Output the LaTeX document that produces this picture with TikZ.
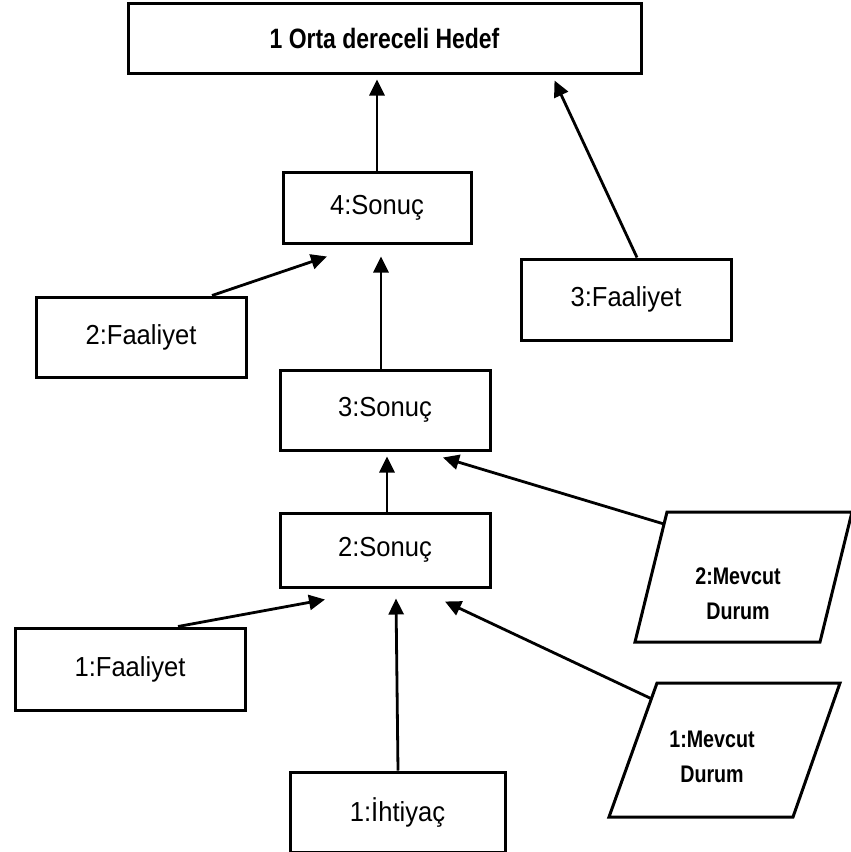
\documentclass[tikz,border=0pt]{standalone}
\usepackage{fontspec}
\setmainfont{Liberation Sans}
\newfontfamily\narrowsans[FakeStretch=0.82]{Liberation Sans}
\newfontfamily\labelsans[FakeStretch=0.93]{Liberation Sans}
\usetikzlibrary{arrows.meta}

\tikzset{
  box/.style={draw, line width=3pt, rectangle, inner sep=0pt,
    font=\labelsans\fontsize{27.5}{30}\selectfont},
  goalbox/.style={box, font=\narrowsans\bfseries\fontsize{28}{32}\selectfont},
  parabox/.style={line width=3pt, line join=miter},
  paratext/.style={inner sep=0pt, align=center,
    font=\narrowsans\bfseries\fontsize{24}{35}\selectfont},
  arr/.style={line width=2.8pt, -{Triangle[length=16pt,width=15pt]}}
}

\begin{document}
\begin{tikzpicture}[x=1pt,y=-1pt]
  \useasboundingbox (0,0) rectangle (851,852);

  % goal
  \node[goalbox, minimum width=513pt, minimum height=70pt] (goal) at (384.5,38) {1 Orta dereceli Hedef};

  % results
  \node[box, minimum width=188pt, minimum height=71pt] (s4) at (377,207.5) {4:Sonuç};
  \node[box, minimum width=210pt, minimum height=80pt] (s3) at (385,410) {3:Sonuç};
  \node[box, minimum width=210pt, minimum height=74pt] (s2) at (385,550) {2:Sonuç};

  % activities
  \node[box, minimum width=210pt, minimum height=81pt] (f3) at (626,299.5) {3:Faaliyet};
  \node[box, minimum width=210pt, minimum height=80pt] (f2) at (141,337) {2:Faaliyet};
  \node[box, minimum width=230pt, minimum height=82pt] (f1) at (130,669) {1:Faaliyet};

  % need
  \node[box, minimum width=215pt, minimum height=80pt] (n1) at (397.5,812) {1:İhtiyaç};

  % current situations (parallelograms)
  \draw[parabox] (635,642) -- (667,512) -- (852,512) -- (820,642) -- cycle;
  \node[paratext] (m2) at (738,594) {2:Mevcut\\Durum};
  \coordinate (m2e) at (664,524);

  \draw[parabox] (609,817) -- (657,683) -- (840,683) -- (793,817) -- cycle;
  \node[paratext] (m1) at (712,757) {1:Mevcut\\Durum};
  \coordinate (m1e) at (652,699);

  % connectors (tips stop a little short of the boxes)
  \draw[arr] (s4.north) -- ([yshift=-5pt]goal.south -| s4.north);
  \draw[arr] ([xshift=11pt]f3.north) -- ([xshift=170pt,yshift=-6pt]goal.south);
  \draw[arr] ([xshift=71pt]f2.north) -- ([xshift=-50pt,yshift=-12pt]s4.south);
  \draw[arr] ([xshift=-4pt]s3.north) -- ([xshift=4pt,yshift=-12pt]s4.south);
  \draw[arr] ([xshift=2pt]s2.north) -- ([xshift=2pt,yshift=-5pt]s3.south);
  \draw[arr] (m2e) -- ([xshift=58pt,yshift=-6pt]s3.south);
  \draw[arr] ([xshift=48pt]f1.north) -- ([xshift=-60pt,yshift=-11pt]s2.south);
  \draw[arr] ([xshift=0.5pt]n1.north) -- ([xshift=11pt,yshift=-10pt]s2.south);
  \draw[arr] (m1e) -- ([xshift=60pt,yshift=-13pt]s2.south);
\end{tikzpicture}
\end{document}
